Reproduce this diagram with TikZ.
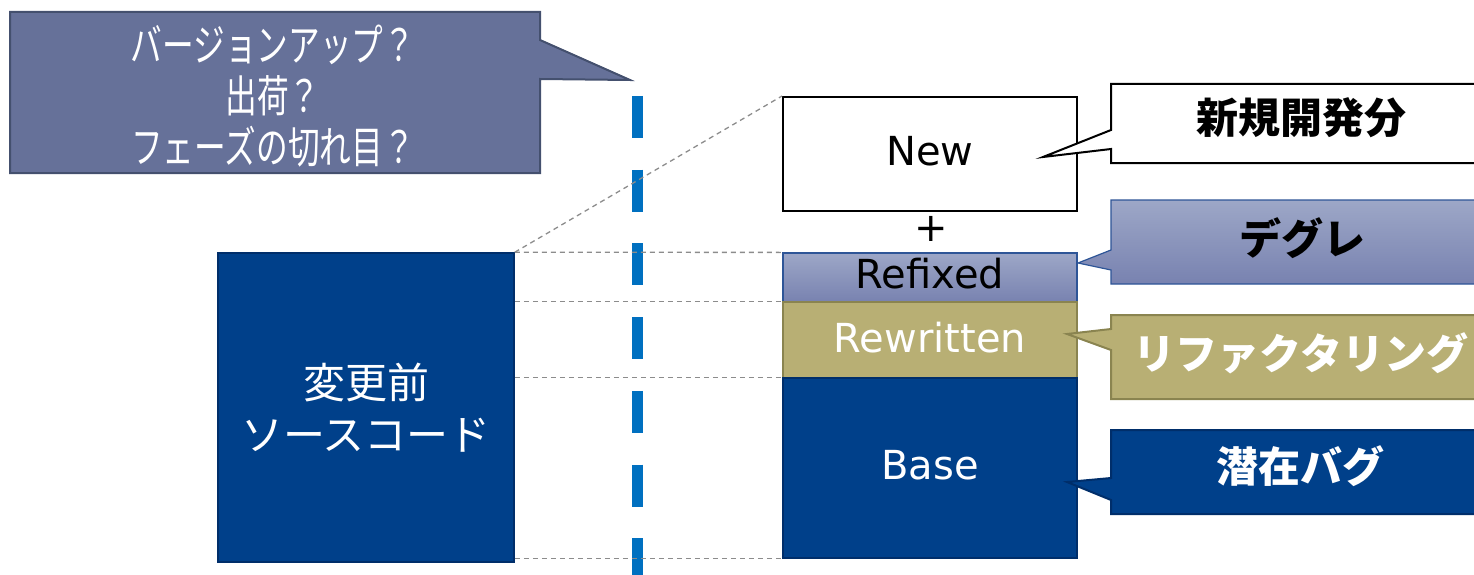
\documentclass[tikz,border=0pt]{standalone}
\usepackage{fontspec}
\setmainfont{DejaVu Sans}
\newfontfamily\jp{Noto Sans CJK JP}
\newfontfamily\jpc[FakeStretch=0.72]{Noto Sans CJK JP}
\definecolor{slate}{HTML}{667199}
\definecolor{slateedge}{HTML}{44506E}
\definecolor{navy}{HTML}{00408A}
\definecolor{navyedge}{HTML}{002E6A}
\definecolor{khaki}{HTML}{B8AF74}
\definecolor{khakiedge}{HTML}{8A8450}
\definecolor{gradtop}{HTML}{9DA7C7}
\definecolor{gradbot}{HTML}{7882B0}
\definecolor{gradedge}{HTML}{2E5597}
\definecolor{markblue}{HTML}{0070C0}
\definecolor{guidegrey}{HTML}{8C8C8C}
\tikzset{
  layer/.style={rectangle, inner sep=0pt, minimum width=294pt, align=center},
  guide/.style={draw=guidegrey, line width=1.3pt, dash pattern=on 5pt off 4pt},
  latinlbl/.style={font=\fontsize{40}{48}\selectfont},
  jpbold/.style={font=\jp\bfseries\fontsize{42}{48}\selectfont},
}
\begin{document}
\begin{tikzpicture}[x=1pt,y=-1pt]
\useasboundingbox (0,0) rectangle (1474,575);
% phase marker
\coordinate (ptop) at (637.5,96);
\coordinate (pbot) at (637.5,580);
\draw[markblue, line width=10.5pt, dash pattern=on 42pt off 31.7pt] (ptop) -- (pbot);
% question callout
\draw[fill=slate, draw=slateedge, line width=2pt]
  (10,12) -- (540,12) -- (540,40) -- (630,80) -- (540,79) -- (540,173) -- (10,173) -- cycle;
\node[text=white, align=center, font=\jpc\fontsize{44}{51}\selectfont] (q) at (273,96)
  {バージョンアップ？\\出荷？\\フェーズの切れ目？};
% source box
\node[rectangle, fill=navy, draw=navyedge, line width=1.5pt, minimum width=296pt, minimum height=309pt,
  text=white, align=center, font=\jp\fontsize{42}{52}\selectfont] (src) at (366,407.5)
  {変更前\\ソースコード};
% layers
\node[layer, fill=white, draw=black, line width=2pt, minimum height=114pt, latinlbl] (new) at (930,154) {\raisebox{7pt}{New}};
\node[font=\fontsize{40}{48}\selectfont] (plus) at (931,229) {+};
\node[layer, top color=gradtop, bottom color=gradbot, draw=gradedge, line width=1.2pt, minimum height=49pt, latinlbl] (refixed) at (930,277.5) {\raisebox{8pt}{Refixed}};
\node[layer, fill=khaki, draw=khakiedge, line width=1.5pt, minimum height=76pt, latinlbl, text=white] (rewritten) at (930,340) {\raisebox{6pt}{Rewritten}};
\node[layer, fill=navy, draw=navyedge, line width=1.5pt, minimum height=180pt, latinlbl, text=white] (base) at (930,468) {\raisebox{7pt}{Base}};
% guides
\draw[guide] (src.north east) -- (new.north west);
\draw[guide] (src.north east) -- (refixed.north west);
\draw[guide] (src.east |- rewritten.north) -- (rewritten.north west);
\draw[guide] (src.east |- base.north) -- (base.north west);
\draw[guide] (src.east |- base.south) -- (base.south west);
% right callouts
\draw[fill=white, draw=black, line width=2pt]
  (1111,84) -- (1480,84) -- (1480,163) -- (1111,163) -- (1111,149) -- (1043,157) -- (1111,130) -- cycle;
\node[jpbold] (cnew) at (1301,118) {新規開発分};
\path[top color=gradtop, bottom color=gradbot, draw=gradedge, line width=1.2pt]
  (1111,200) -- (1480,200) -- (1480,284) -- (1111,284) -- (1111,270) -- (1078,263) -- (1111,250) -- cycle;
\node[jpbold] (cref) at (1302,238) {デグレ};
\draw[fill=khaki, draw=khakiedge, line width=2pt]
  (1111,315) -- (1480,315) -- (1480,399) -- (1111,399) -- (1111,350) -- (1067,334) -- (1111,329) -- cycle;
\node[jpbold, text=white] (crew) at (1301,353) {リファクタリング};
\draw[fill=navy, draw=navyedge, line width=2pt]
  (1111,430) -- (1480,430) -- (1480,514) -- (1111,514) -- (1111,500) -- (1067,482) -- (1111,478) -- cycle;
\node[jpbold, text=white] (cbase) at (1300,466) {潜在バグ};
\end{tikzpicture}
\end{document}
